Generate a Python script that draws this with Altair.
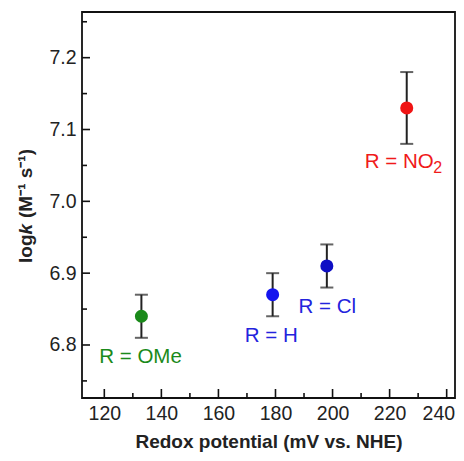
import altair as alt
import pandas as pd

# ---- data ----
substituents = ["OMe", "H", "Cl", "NO2"]
redox_mv = [133, 179, 198, 226]
logk = [6.84, 6.87, 6.91, 7.13]
err = [0.03, 0.03, 0.03, 0.05]
point_colors = ["#1a8a1a", "#1414ee", "#0e0ec4", "#f01414"]

label_text = ["R = OMe", "R = H", "R = Cl", "R = NO"]
label_x = [132.7, 178.5, 198.15, 223.4]
label_y = [6.775, 6.804, 6.845, 7.0465]
label_colors = ["#1a8a1a", "#2323dd", "#2323dd", "#f01a1a"]
sub_text = ["2"]
sub_x = [236.9]
sub_y = [7.0396]

x_major = [120, 140, 160, 180, 200, 220, 240]
x_minor = [130, 150, 170, 190, 210, 230]
y_major = [6.8, 6.9, 7.0, 7.1, 7.2]
y_minor = [6.75, 6.85, 6.95, 7.05, 7.15, 7.25]

X_DOMAIN = [112.18, 242.92]
Y_DOMAIN = [6.7262, 7.2636]
W, H = 373, 386
FONT = "Liberation Sans"

df = pd.DataFrame({
    "sub": substituents, "x": redox_mv, "y": logk,
    "lo": [v - e for v, e in zip(logk, err)],
    "hi": [v + e for v, e in zip(logk, err)],
    "color": point_colors,
})
caps = pd.DataFrame({
    "x": redox_mv * 2,
    "y": [v - e for v, e in zip(logk, err)] + [v + e for v, e in zip(logk, err)],
})
labels = pd.DataFrame({"t": label_text, "x": label_x, "y": label_y, "c": label_colors})
subs = pd.DataFrame({"t": sub_text, "x": sub_x, "y": sub_y})

xs = alt.Scale(domain=X_DOMAIN, nice=False, zero=False)
ys = alt.Scale(domain=Y_DOMAIN, nice=False, zero=False)

xax = alt.Axis(values=x_major, format="d", ticks=False, tickSize=0, domain=False, grid=False,
               labelFontSize=19.5, labelFont=FONT, labelColor="#222", labelPadding=6,
               labelFlush=12, labelFlushOffset=8,
               title="Redox potential (mV vs. NHE)", titleFont=FONT, titleFontSize=19,
               titleFontWeight="bold", titleColor="#222", titlePadding=10)
yax = alt.Axis(values=y_major, format=".1f", ticks=False, tickSize=0, domain=False, grid=False,
               labelFontSize=19.5, labelFont=FONT, labelColor="#222", labelPadding=6,
               title=None)

bars = alt.Chart(df).mark_rule(color="#222", strokeWidth=2).encode(
    x=alt.X("x:Q", scale=xs, axis=xax),
    y=alt.Y("lo:Q", scale=ys, axis=yax),
    y2="hi:Q",
)
capmarks = alt.Chart(caps).mark_tick(color="#222", orient="horizontal", size=13, thickness=2).encode(
    x=alt.X("x:Q", scale=xs), y=alt.Y("y:Q", scale=ys)
)
points = alt.Chart(df).mark_circle(size=170, opacity=1).encode(
    x=alt.X("x:Q", scale=xs), y=alt.Y("y:Q", scale=ys),
    color=alt.Color("color:N", scale=None),
)
texts = alt.Chart(labels).mark_text(font=FONT, fontSize=20.5, align="center", baseline="alphabetic").encode(
    x=alt.X("x:Q", scale=xs), y=alt.Y("y:Q", scale=ys), text="t:N",
    color=alt.Color("c:N", scale=None),
)
subtexts = alt.Chart(subs).mark_text(font=FONT, fontSize=16, align="center", baseline="alphabetic",
                                     color="#f01a1a").encode(
    x=alt.X("x:Q", scale=xs), y=alt.Y("y:Q", scale=ys), text="t:N",
)

# inward axis ticks
ymaj = alt.Chart(pd.DataFrame({"v": y_major})).mark_rule(color="#111", strokeWidth=1.6).encode(
    y=alt.Y("v:Q", scale=ys), x=alt.value(0), x2=alt.value(8))
ymin = alt.Chart(pd.DataFrame({"v": y_minor})).mark_rule(color="#111", strokeWidth=1.6).encode(
    y=alt.Y("v:Q", scale=ys), x=alt.value(0), x2=alt.value(5))
xmaj = alt.Chart(pd.DataFrame({"v": x_major})).mark_rule(color="#111", strokeWidth=1.6).encode(
    x=alt.X("v:Q", scale=xs), y=alt.value(H), y2=alt.value(H - 9))
xmin = alt.Chart(pd.DataFrame({"v": x_minor})).mark_rule(color="#111", strokeWidth=1.6).encode(
    x=alt.X("v:Q", scale=xs), y=alt.value(H), y2=alt.value(H - 5))

# y-axis title pieces: "log" + italic "k" + "(M⁻¹ s⁻¹)"
t1 = alt.Chart(pd.DataFrame({"t": ["log"]})).mark_text(
    font=FONT, fontSize=19, fontWeight="bold", angle=270, align="left", baseline="middle", color="#222"
).encode(text="t:N", x=alt.value(-56), y=alt.value(251))
t2 = alt.Chart(pd.DataFrame({"t": ["k"]})).mark_text(
    font=FONT, fontSize=19, fontWeight="bold", fontStyle="italic", angle=270, align="left",
    baseline="middle", color="#222"
).encode(text="t:N", x=alt.value(-56), y=alt.value(222.5))
t3 = alt.Chart(pd.DataFrame({"t": ["(M⁻¹ s⁻¹)"]})).mark_text(
    font=FONT, fontSize=19, fontWeight="bold", angle=270, align="left", baseline="middle", color="#222"
).encode(text="t:N", x=alt.value(-56), y=alt.value(206))

chart = alt.layer(
    bars, capmarks, points, texts, subtexts, ymaj, ymin, xmaj, xmin, t1, t2, t3
).properties(
    width=W, height=H,
    autosize=alt.AutoSizeParams(type="none"),
    padding={"left": 74, "top": 4, "right": 1, "bottom": 55},
).configure(background="white").configure_view(stroke="#111", strokeWidth=1.8)

chart.save("out.html", embed_options={"renderer": "svg", "actions": False})
